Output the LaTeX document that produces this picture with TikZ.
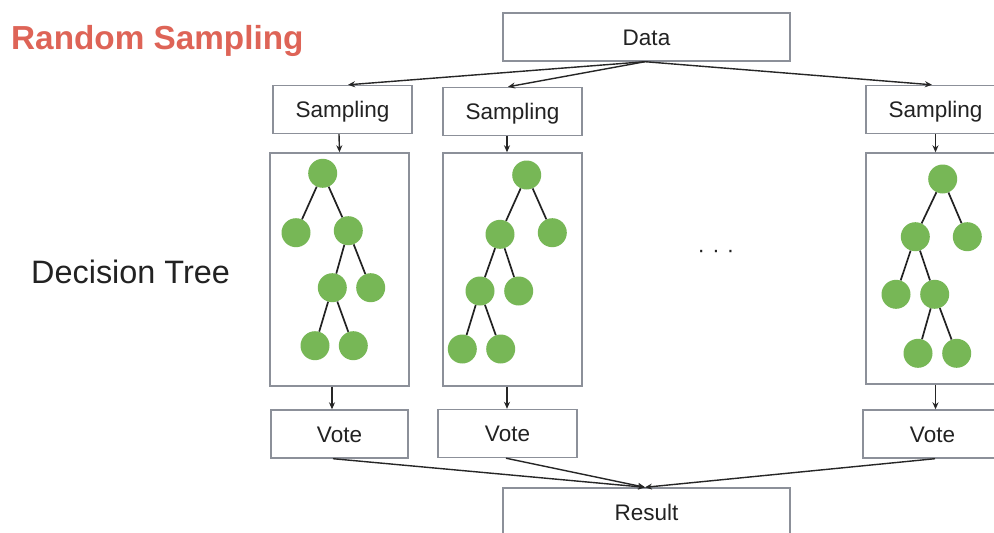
\documentclass[tikz,border=0pt]{standalone}
\usepackage{fontspec}
\setmainfont{Liberation Sans}
\usetikzlibrary{arrows.meta,calc}

\definecolor{boxgray}{HTML}{8C9099}
\definecolor{leafgreen}{HTML}{77B756}
\definecolor{titlered}{HTML}{DE6457}
\definecolor{inkdark}{HTML}{222222}

\tikzset{
  stagebox/.style={draw=boxgray, line width=1.4pt, fill=white, inner sep=0pt,
    minimum width=139pt, minimum height=48pt, font=\fontsize{22.5}{26}\selectfont, text=inkdark,
    text height=16pt, text depth=0pt},
  widebox/.style={stagebox, minimum width=287pt},
  treebox/.style={draw=boxgray, line width=1.4pt, inner sep=0pt,
    minimum width=139pt, minimum height=233pt},
  leaf/.style={circle, fill=leafgreen, inner sep=0pt, minimum size=29pt},
  branch/.style={draw=inkdark, line width=1.7pt},
  flow/.style={draw=black!85, line width=1.4pt, -{Stealth[length=7pt,width=6pt]}},
}

\begin{document}
\begin{tikzpicture}[x=1pt, y=-1pt]
\path[use as bounding box, clip] (0,0) rectangle (994,533);
\fill[white] (0,0) rectangle (994,533);

% headings
\node[anchor=base west, inner sep=0pt, text=titlered,
      font=\bfseries\fontsize{33.3}{36}\selectfont] (title) at (11,49) {Random Sampling};
\node[anchor=base west, inner sep=0pt, text=inkdark,
      font=\fontsize{32.4}{36}\selectfont] (dtlabel) at (31,283) {Decision Tree};

% data source and final result
\node[widebox] (data) at (646.5,37) {Data};
\node[widebox] (result) at (646.5,512) {Result};

% sampling stage
\node[stagebox] (s1) at (342.5,109.5) {Sampling};
\node[stagebox] (s2) at (512.5,111.5) {Sampling};
\node[stagebox] (s3) at (935.5,109.5) {Sampling};

% tree frames
\node[treebox] (t1) at (339.5,269.5) {};
\node[treebox] (t2) at (512.5,269.5) {};
\node[treebox, minimum height=231pt] (t3) at (935.5,268.5) {};

% voting stage
\node[stagebox, minimum width=137pt] (v1) at (339.5,434) {Vote};
\node[stagebox] (v2) at (507.5,433.5) {Vote};
\node[stagebox] (v3) at (932.5,434) {Vote};

% ellipsis between the trees
\node[inner sep=0pt, text=inkdark, font=\fontsize{22}{24}\selectfont] (dots) at (716,254) {·\,\,·\,\,·};

% tree 1
\node[leaf] (a0) at (322.7,173.3) {};
\node[leaf] (a1) at (296,232.7) {};
\node[leaf] (a2) at (348.3,230.7) {};
\node[leaf] (a3) at (332.3,287.7) {};
\node[leaf] (a4) at (370.7,287.7) {};
\node[leaf] (a5) at (315,345.7) {};
\node[leaf] (a6) at (353.3,345.7) {};
\draw[branch] (a0) -- (a1) (a0) -- (a2) (a2) -- (a3) (a2) -- (a4) (a3) -- (a5) (a3) -- (a6);

% tree 2
\node[leaf] (b0) at (526.7,175) {};
\node[leaf] (b1) at (500,234.3) {};
\node[leaf] (b2) at (552.3,232.7) {};
\node[leaf] (b3) at (480,291) {};
\node[leaf] (b4) at (518.7,291) {};
\node[leaf] (b5) at (462.3,349) {};
\node[leaf] (b6) at (500.7,349) {};
\draw[branch] (b0) -- (b1) (b0) -- (b2) (b1) -- (b3) (b1) -- (b4) (b3) -- (b5) (b3) -- (b6);

% tree 3
\node[leaf] (c0) at (942.7,179) {};
\node[leaf] (c1) at (915.3,236.7) {};
\node[leaf] (c2) at (967.3,236.7) {};
\node[leaf] (c3) at (896,294.3) {};
\node[leaf] (c4) at (934.7,294.3) {};
\node[leaf] (c5) at (918,353.3) {};
\node[leaf] (c6) at (956.7,353.3) {};
\draw[branch] (c0) -- (c1) (c0) -- (c2) (c1) -- (c3) (c1) -- (c4) (c4) -- (c5) (c4) -- (c6);

% data fans out to the samplers
\coordinate (fan) at ([xshift=-1.5pt]data.south);
\draw[flow] (fan) -- ([xshift=5.5pt]s1.north);
\draw[flow] (fan) -- ([xshift=-4.5pt]s2.north);
\draw[flow] (fan) -- ([xshift=-3.5pt]s3.north);

% sampler to tree
\draw[flow] ([xshift=-3.5pt]s1.south) -- (t1.north);
\draw[flow] ([xshift=-5.5pt]s2.south) -- ([xshift=-5.5pt]t2.north);
\draw[flow] (s3.south) -- (t3.north);

% tree to vote
\draw[flow] ([xshift=-7.5pt]t1.south) -- ([xshift=-7.5pt]v1.north);
\draw[flow] ([xshift=-5.5pt]t2.south) -- ([xshift=-0.5pt]v2.north);
\draw[flow] (t3.south) -- ([xshift=3pt]v3.north);

% votes gather into the result
\coordinate (gather) at ([xshift=-1.5pt]result.north);
\draw[flow] ([xshift=-6.5pt]v1.south) -- (gather);
\draw[flow] ([xshift=-1.5pt]v2.south) -- (gather);
\draw[flow] ([xshift=2.5pt]v3.south) -- (gather);
\end{tikzpicture}
\end{document}
